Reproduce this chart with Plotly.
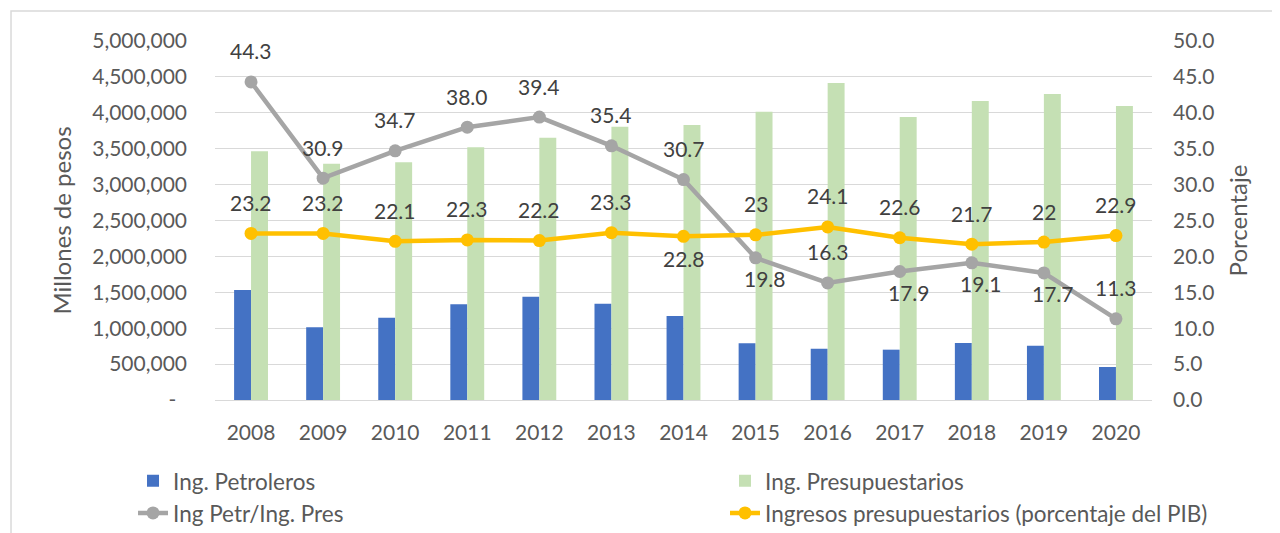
import plotly.graph_objects as go

# ---------------- data ----------------
years = ['2008', '2009', '2010', '2011', '2012', '2013', '2014',
         '2015', '2016', '2017', '2018', '2019', '2020']
ing_petroleros = [1532000, 1012000, 1146000, 1332000, 1439000, 1341000, 1170000,
                  790000, 715000, 701000, 794000, 756000, 460000]
ing_presupuestarios = [3463000, 3291000, 3310000, 3519000, 3653000, 3806000, 3830000,
                       4015000, 4415000, 3941000, 4164000, 4262000, 4095000]
petr_pres = [44.3, 30.9, 34.7, 38.0, 39.4, 35.4, 30.7, 19.8, 16.3, 17.9, 19.1, 17.7, 11.3]
petr_pres_labels = ['44.3', '30.9', '34.7', '38.0', '39.4', '35.4', '30.7',
                    '19.8', '16.3', '17.9', '19.1', '17.7', '11.3']
ing_pib = [23.2, 23.2, 22.1, 22.3, 22.2, 23.3, 22.8, 23, 24.1, 22.6, 21.7, 22, 22.9]
ing_pib_labels = ['23.2', '23.2', '22.1', '22.3', '22.2', '23.3', '22.8',
                  '23', '24.1', '22.6', '21.7', '22', '22.9']
left_tickvals = [0, 500000, 1000000, 1500000, 2000000, 2500000, 3000000,
                 3500000, 4000000, 4500000, 5000000]
left_ticktext = ['-\u00a0\u00a0', '500,000', '1,000,000', '1,500,000', '2,000,000',
                 '2,500,000', '3,000,000', '3,500,000', '4,000,000', '4,500,000', '5,000,000']
right_tickvals = [0, 5, 10, 15, 20, 25, 30, 35, 40, 45, 50]

# label placement (style): True = above the marker
petr_above = [True, True, True, True, True, True, True, False, True, False, False, False, True]
pib_above = [True, True, True, True, True, True, False, True, True, True, True, True, True]

FONT = 'Lato'
TICK_COLOR = '#595959'
LABEL_COLOR = '#404040'

fig = go.Figure()
fig.add_trace(go.Bar(x=years, y=ing_petroleros, name='Ing. Petroleros',
                     marker=dict(color='#4472C4', line=dict(width=0)),
                     legend='legend'))
fig.add_trace(go.Bar(x=years, y=ing_presupuestarios, name='Ing. Presupuestarios',
                     marker=dict(color='#C5E0B4', line=dict(width=0)),
                     legend='legend2'))
fig.add_trace(go.Scatter(x=years, y=petr_pres, name='Ing Petr/Ing. Pres', yaxis='y2',
                         mode='lines+markers',
                         line=dict(color='#A5A5A5', width=4.5),
                         marker=dict(color='#A5A5A5', size=13),
                         legend='legend'))
fig.add_trace(go.Scatter(x=years, y=ing_pib, name='Ingresos presupuestarios (porcentaje del PIB)',
                         yaxis='y2', mode='lines+markers',
                         line=dict(color='#FFC000', width=4.5),
                         marker=dict(color='#FFC000', size=13),
                         legend='legend2'))

annotations = []
for i in range(len(years)):
    above = petr_above[i]
    annotations.append(dict(x=i, y=petr_pres[i], xref='x', yref='y2',
                            text=petr_pres_labels[i], showarrow=False,
                            yshift=31 if above else -21, xshift=0 if above else 9,
                            font=dict(family=FONT, size=21, color=LABEL_COLOR)))
    above = pib_above[i]
    annotations.append(dict(x=i, y=ing_pib[i], xref='x', yref='y2',
                            text=ing_pib_labels[i], showarrow=False,
                            yshift=31 if above else -22,
                            font=dict(family=FONT, size=21, color=LABEL_COLOR)))

fig.update_layout(
    width=1272, height=525,
    margin=dict(l=207, r=128, t=33, b=133, autoexpand=False),
    paper_bgcolor='white', plot_bgcolor='white',
    font=dict(family=FONT, size=21, color=TICK_COLOR),
    barmode='group', bargap=0.53, bargroupgap=0,
    xaxis=dict(type='category', range=[-0.5, 12.5], showgrid=False,
               showline=True, linecolor='#D9D9D9', linewidth=1,
               ticks='', tickfont=dict(family=FONT, size=21, color=TICK_COLOR),
               ticklabelstandoff=14),
    yaxis=dict(range=[0, 5000000], tickvals=left_tickvals, ticktext=left_ticktext,
               showgrid=True, gridcolor='#D9D9D9', gridwidth=1, zeroline=False,
               ticks='', tickfont=dict(family=FONT, size=21, color=TICK_COLOR),
               ticklabelstandoff=27,
               title=dict(text='Millones de pesos', standoff=13,
                          font=dict(family=FONT, size=24, color=TICK_COLOR))),
    yaxis2=dict(range=[0, 50], tickvals=right_tickvals, tickformat='.1f',
                overlaying='y', side='right', showgrid=False, zeroline=False,
                ticks='', tickfont=dict(family=FONT, size=21, color=TICK_COLOR),
                ticklabelstandoff=20,
                title=dict(text='Porcentaje', standoff=16,
                           font=dict(family=FONT, size=24, color=TICK_COLOR))),
    legend=dict(orientation='v', x=-0.0875, xanchor='left', y=-0.166, yanchor='top',
                font=dict(family=FONT, size=22.5, color=TICK_COLOR),
                bgcolor='rgba(0,0,0,0)', itemwidth=30, tracegroupgap=0),
    legend2=dict(orientation='v', x=0.5443, xanchor='left', y=-0.166, yanchor='top',
                 font=dict(family=FONT, size=22.5, color=TICK_COLOR),
                 bgcolor='rgba(0,0,0,0)', itemwidth=30, tracegroupgap=0),
    annotations=annotations,
    shapes=[dict(type='rect', xref='paper', yref='paper',
                 x0=-0.2177, x1=1.3, y0=-0.5, y1=1.0836,
                 line=dict(color='#D9D9D9', width=1.5), fillcolor='rgba(0,0,0,0)',
                 layer='below')],
)

fig.write_html('out.html')
